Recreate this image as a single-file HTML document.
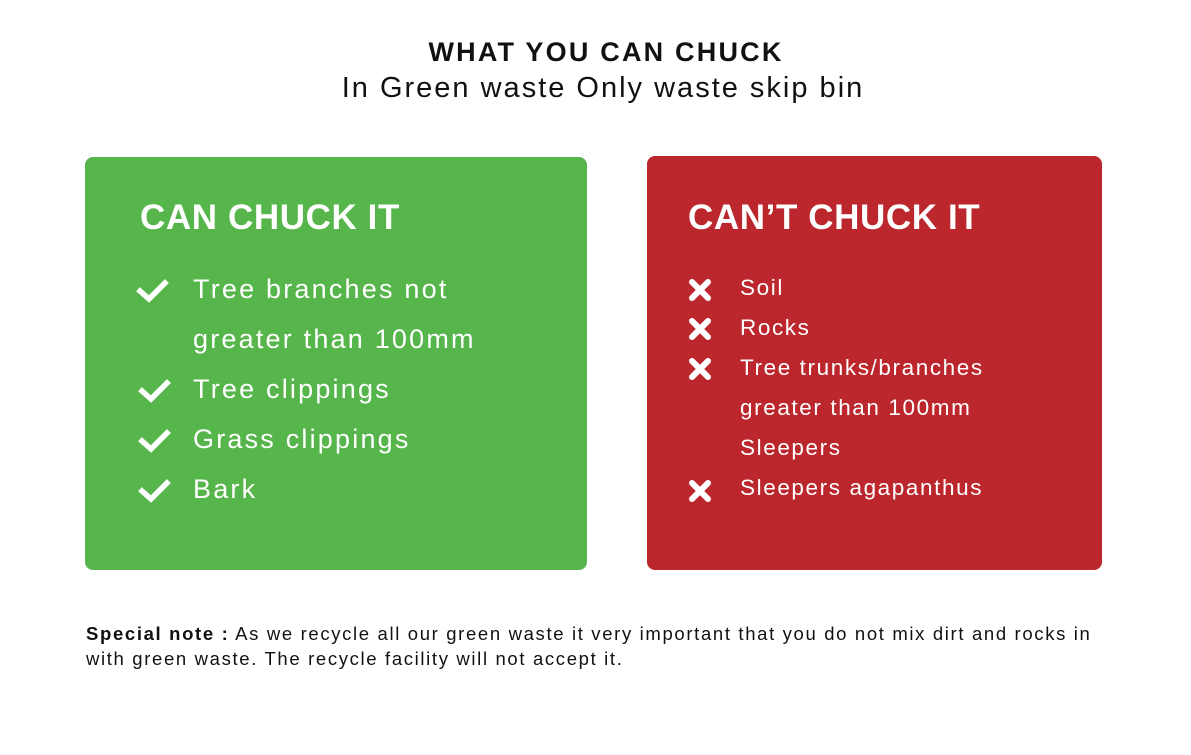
<!DOCTYPE html>
<html><head><meta charset="utf-8"><style>
body{margin:0;width:1191px;height:755px;background:#fff;font-family:"Liberation Sans",sans-serif;position:relative;overflow:hidden}
.a{position:absolute;white-space:nowrap}
.t1{left:0;width:1212px;text-align:center;top:37px;font-size:27px;font-weight:bold;color:#111;letter-spacing:2.2px}
.t2{left:0;width:1206px;text-align:center;top:72px;font-size:29px;color:#111;letter-spacing:2px}
.g{left:85px;top:157px;width:502px;height:413px;background:#57b64b;border-radius:8px}
.r{left:647px;top:156px;width:455px;height:414px;background:#bc262d;border-radius:8px}
.h{font-size:35px;font-weight:bold;color:#fff;letter-spacing:0.6px}
.gi{font-size:27px;color:#fff;letter-spacing:2.2px}
.ri{font-size:22.5px;color:#fff;letter-spacing:1.6px}
.n{left:86px;top:621px;font-size:18.5px;color:#111;line-height:25px;white-space:nowrap;letter-spacing:1.65px}
</style></head><body>
<div class="a t1">WHAT YOU CAN CHUCK</div>
<div class="a t2">In Green waste Only waste skip bin</div>
<div class="a g"></div><div class="a r"></div>
<div class="a h" style="left:140px;top:198px">CAN CHUCK IT</div>
<div class="a h" style="left:688px;top:198px">CAN’T CHUCK IT</div>
<svg class="a" style="left:0;top:0" width="1191" height="755">
<g fill="none" stroke="#fff" stroke-width="5.5" stroke-linecap="square">
<path d="M140 291 l9 8 l16 -16"/><path d="M142 391 l9 8 l16 -16"/><path d="M142 441 l9 8 l16 -16"/><path d="M142 491 l9 8 l16 -16"/>
</g>
<g stroke="#fff" stroke-width="6" stroke-linecap="round">
<path d="M692 282 l16 16 M708 282 l-16 16"/><path d="M692 321 l16 16 M708 321 l-16 16"/><path d="M692 361 l16 16 M708 361 l-16 16"/><path d="M692 483 l16 16 M708 483 l-16 16"/>
</g></svg>
<div class="a gi" style="left:193px;top:274px">Tree branches not</div>
<div class="a gi" style="left:193px;top:324px">greater than 100mm</div>
<div class="a gi" style="left:193px;top:374px">Tree clippings</div>
<div class="a gi" style="left:193px;top:424px">Grass clippings</div>
<div class="a gi" style="left:193px;top:474px">Bark</div>
<div class="a ri" style="left:740px;top:275px">Soil</div>
<div class="a ri" style="left:740px;top:315px">Rocks</div>
<div class="a ri" style="left:740px;top:355px">Tree trunks/branches</div>
<div class="a ri" style="left:740px;top:395px">greater than 100mm</div>
<div class="a ri" style="left:740px;top:435px">Sleepers</div>
<div class="a ri" style="left:740px;top:475px">Sleepers agapanthus</div>
<div class="a n"><b>Special note :</b> As we recycle all our green waste it very important that you do not mix dirt and rocks in<br>with green waste. The recycle facility will not accept it.</div>
</body></html>
